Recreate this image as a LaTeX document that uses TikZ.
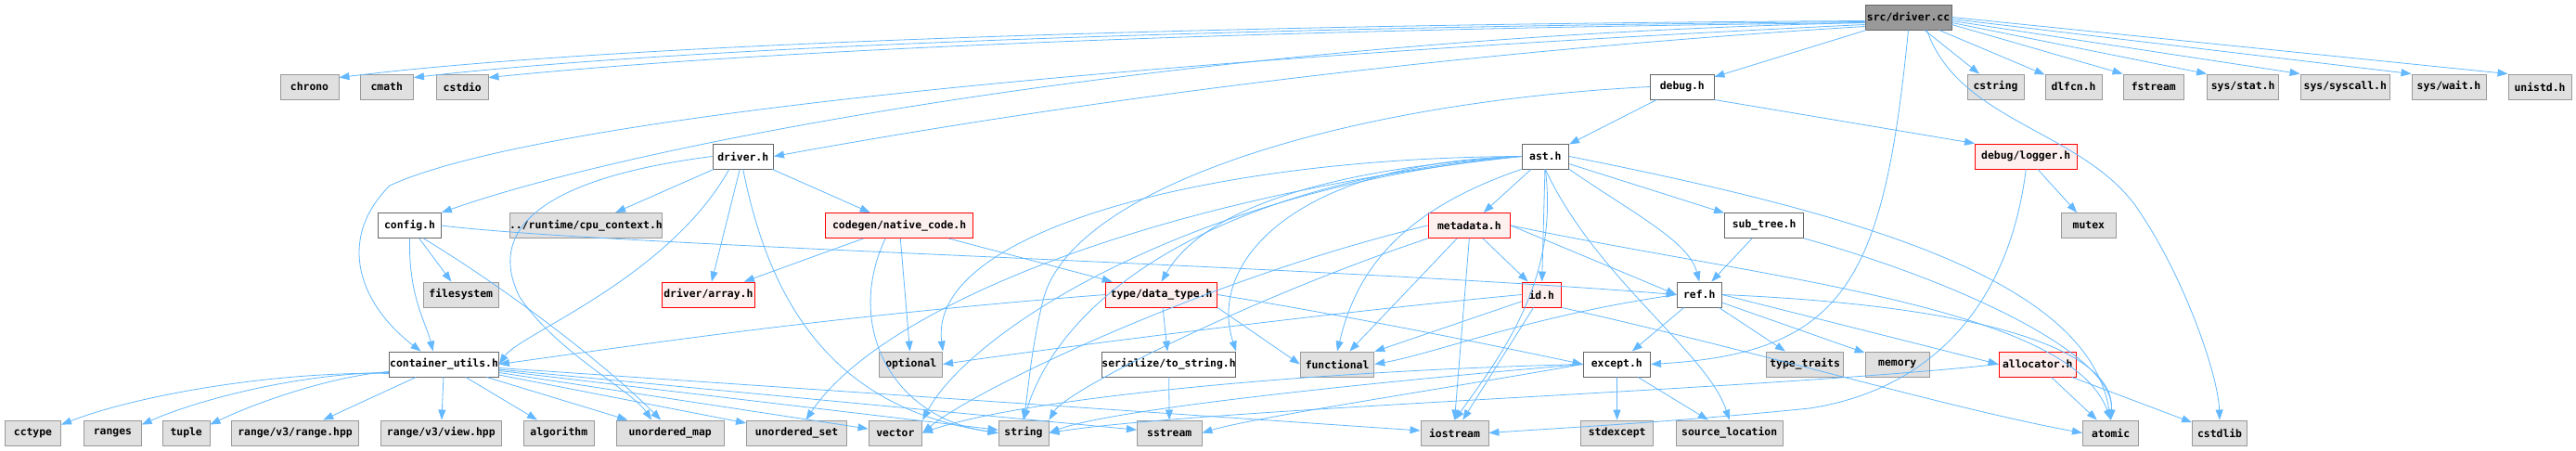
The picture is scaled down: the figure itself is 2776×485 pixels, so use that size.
\documentclass[tikz,border=0pt]{standalone}
\usepackage{fontspec}
\setmonofont{DejaVu Sans Mono}
\usetikzlibrary{arrows.meta}
\definecolor{edgec}{HTML}{63B8FF}
\definecolor{mainfill}{HTML}{999999}
\definecolor{docdraw}{HTML}{666666}
\definecolor{extfill}{HTML}{E0E0E0}
\definecolor{extdraw}{HTML}{999999}
\definecolor{redfill}{HTML}{FFF0F0}
\newcommand\nb[6]{\node[#2, minimum width={(#4-#3)*1pt}] (#1) at ({(#3+#4)/2},#5) {#6};}
\begin{document}
\begin{tikzpicture}[x=1pt,y=-1pt,
  box/.style={rectangle, minimum height=27pt, inner sep=0pt, line width=0.9pt,
    font=\ttfamily\bfseries\fontsize{11.4}{13}\selectfont},
  mainn/.style={box, fill=mainfill, draw=docdraw},
  doc/.style={box, fill=white, draw=docdraw},
  ext/.style={box, fill=extfill, draw=extdraw},
  trunc/.style={box, fill=redfill, draw=red},
  edge/.style={draw=edgec, line width=0.8pt, -{Triangle[length=11pt,width=8pt]}}]
\useasboundingbox (0,0) rectangle (2776,485);
% row 1
\nb{src}{mainn}{2010}{2103}{18.5}{src/driver.cc}
% row 2
\nb{chrono}{ext}{302}{365}{93.5}{chrono}
\nb{cmath}{ext}{388}{445.5}{93.5}{cmath}
\nb{cstdio}{ext}{470.5}{526}{93.5}{cstdio}
\nb{debug}{doc}{1778.6}{1847}{93.5}{debug.h}
\nb{cstring}{ext}{2120}{2181}{93.5}{cstring}
\nb{dlfcn}{ext}{2204}{2265}{93.5}{dlfcn.h}
\nb{fstream}{ext}{2288}{2353.5}{93.5}{fstream}
\nb{sysstat}{ext}{2378.5}{2455.7}{93.5}{sys/stat.h}
\nb{syscall}{ext}{2479}{2575.5}{93.5}{sys/syscall.h}
\nb{syswait}{ext}{2599}{2679}{93.5}{sys/wait.h}
\nb{unistd}{ext}{2703}{2771}{93.5}{unistd.h}
% row 3
\nb{driver}{doc}{768}{833.5}{168.5}{driver.h}
\nb{ast}{doc}{1640}{1690.6}{168.5}{ast.h}
\nb{logger}{trunc}{2128.5}{2238}{168.5}{debug/logger.h}
% row 4
\nb{config}{doc}{407.6}{475.4}{243}{config.h}
\nb{runtime}{ext}{549.5}{713.4}{243}{../runtime/cpu\_context.h}
\nb{codegen}{trunc}{889.7}{1048.6}{243}{codegen/native\_code.h}
\nb{metadata}{trunc}{1539}{1627.7}{243}{metadata.h}
\nb{subtree}{doc}{1858.5}{1943.7}{243}{sub\_tree.h}
\nb{mutex}{ext}{2221.6}{2280}{243}{mutex}
% row 5
\nb{filesystem}{ext}{456}{537.5}{317.5}{filesystem}
\nb{array}{trunc}{713.4}{813.4}{317.5}{driver/array.h}
\nb{datatype}{trunc}{1191.5}{1311.6}{317.5}{type/data\_type.h}
\nb{id}{trunc}{1640}{1682.6}{317.5}{id.h}
\nb{ref}{doc}{1807}{1855.4}{317.5}{ref.h}
% row 6
\nb{cutils}{doc}{419.6}{537.5}{392.5}{container\_utils.h}
\nb{optional}{ext}{947.8}{1015.6}{392.5}{optional}
\nb{serialize}{doc}{1191.5}{1327.6}{392.5}{serialize/to\_string.h}
\nb{functional}{ext}{1401.3}{1480.8}{392.5}{functional}
\nb{except}{doc}{1706}{1778.6}{392.5}{except.h}
\nb{typetraits}{ext}{1903.6}{1986.6}{392.5}{type\_traits}
\nb{memory}{ext}{2010}{2079.5}{392.5}{memory}
\nb{allocator}{trunc}{2154}{2237.5}{392.5}{allocator.h}
% row 7
\nb{cctype}{ext}{5.4}{65.6}{466.5}{cctype}
\nb{ranges}{ext}{90.6}{152.2}{466.5}{ranges}
\nb{tuple}{ext}{175.4}{226}{466.5}{tuple}
\nb{rangehpp}{ext}{249.5}{386.6}{466.5}{range/v3/range.hpp}
\nb{viewhpp}{ext}{410}{540.6}{466.5}{range/v3/view.hpp}
\nb{algorithm}{ext}{564}{640.6}{466.5}{algorithm}
\nb{umap}{ext}{664}{780.4}{466.5}{unordered\_map}
\nb{uset}{ext}{804.5}{912.5}{466.5}{unordered\_set}
\nb{vector}{ext}{936}{993.7}{466.5}{vector}
\nb{string}{ext}{1076}{1130}{466.5}{string}
\nb{sstream}{ext}{1225.4}{1295}{466.5}{sstream}
\nb{iostream}{ext}{1531}{1604}{466.5}{iostream}
\nb{stdexcept}{ext}{1703.6}{1781.7}{466.5}{stdexcept}
\nb{srcloc}{ext}{1806}{1921.4}{466.5}{source\_location}
\nb{atomic}{ext}{2244.4}{2304.8}{466.5}{atomic}
\nb{cstdlib}{ext}{2362.5}{2421.6}{466.5}{cstdlib}

% ---- edges from src/driver.cc
\draw[edge] ([yshift=-4pt]src.west) .. controls (1300,26) and (650,48) .. ([yshift=-4pt]chrono.north east);
\draw[edge] ([yshift=-5pt]src.west) .. controls (1300,29) and (720,52) .. ([yshift=-4pt]cmath.north east);
\draw[edge] ([yshift=-6pt]src.west) .. controls (1300,32) and (800,56) .. ([yshift=-4pt]cstdio.north east);
\draw[edge] (src) -- (cstring);
\draw[edge] (src) -- (dlfcn);
\draw[edge] ([yshift=-8pt]src.east) -- (fstream.north west);
\draw[edge] ([yshift=-6pt]src.east) -- (sysstat.north west);
\draw[edge] ([yshift=-4pt]src.east) -- (syscall.north west);
\draw[edge] ([yshift=-2pt]src.east) -- (syswait.north west);
\draw[edge] (src.east) -- (unistd.north west);
\draw[edge] (src) -- (debug);
\draw[edge] ([yshift=-10pt]src.west) .. controls (1500,60) and (1100,120) .. (driver.east);
\draw[edge] ([yshift=-6pt]src.west) .. controls (1300,40) and (700,150) .. (config.north east);
\draw[edge] ([yshift=-8pt]src.west) .. controls (1100,70) and (560,135) .. (420,200) .. controls (360,260) and (390,330) .. ([xshift=-25pt]cutils.north);
\draw[edge] (src.south) .. controls (2030,300) and (1990,380) .. (except.east);
\draw[edge] ([xshift=20pt]src.south) .. controls (2110,130) and (2240,140) .. (2300,220) .. controls (2350,290) and (2390,400) .. (cstdlib.north);
% ---- debug.h
\draw[edge] (debug) -- (ast);
\draw[edge] (debug.south east) -- (logger.north west);
\draw[edge] (debug.west) .. controls (1450,110) and (1160,200) .. (1125,320) .. controls (1112,370) and (1108,420) .. (string.north);
% ---- logger
\draw[edge] (logger) -- (mutex);
\draw[edge] (logger.south) .. controls (2165,330) and (2080,420) .. (1950,440) .. controls (1800,455) and (1700,460) .. (iostream.east);
% ---- driver.h
\draw[edge] (driver) -- (runtime);
\draw[edge] (driver) -- (codegen);
\draw[edge] (driver) -- (array);
\draw[edge] (driver.west) .. controls (600,190) and (520,240) .. (560,320) .. controls (600,380) and (680,420) .. ([xshift=-20pt]umap.north);
\draw[edge] ([xshift=-15pt]driver.south) .. controls (720,300) and (560,360) .. (cutils.east);
\draw[edge] (driver.south) .. controls (830,330) and (900,440) .. (string.west);
% ---- config.h
\draw[edge] (config) -- (filesystem);
\draw[edge] (config.south) .. controls (440,320) and (460,350) .. ([xshift=-12pt]cutils.north);
\draw[edge] (config.east) .. controls (650,265) and (1400,285) .. (ref.west);
\draw[edge] ([xshift=15pt]config.south) .. controls (560,320) and (660,400) .. ([xshift=-10pt]umap.north);
% ---- codegen
\draw[edge] (codegen) -- (array);
\draw[edge] (codegen) -- (datatype);
\draw[edge] (codegen) -- (optional);
\draw[edge] ([xshift=-15pt]codegen.south) .. controls (910,350) and (960,450) .. (string.west);
% ---- ast.h
\draw[edge] (ast) -- (metadata);
\draw[edge] (ast) -- (subtree);
\draw[edge] (ast) -- (id);
\draw[edge] (ast.south east) .. controls (1760,230) and (1820,260) .. (ref.north);
\draw[edge] (ast.west) .. controls (1450,180) and (1300,220) .. (datatype.north);
\draw[edge] (ast.west) .. controls (1400,175) and (1300,280) .. (serialize.north east);
\draw[edge] (ast.south west) .. controls (1500,230) and (1460,300) .. (functional.north);
\draw[edge] (ast.west) .. controls (1300,170) and (1000,250) .. (optional.north east);
\draw[edge] (ast.west) .. controls (1350,190) and (1150,300) .. (string.north);
\draw[edge] (ast.south) .. controls (1680,300) and (1620,380) .. (iostream.north);
\draw[edge] (ast.south) .. controls (1720,300) and (1840,380) .. (srcloc.north);
\draw[edge] (ast.east) .. controls (2000,230) and (2250,300) .. (atomic.north);
\draw[edge] (ast.west) .. controls (1300,200) and (1050,350) .. (vector.north east);
\draw[edge] (ast.west) .. controls (1250,210) and (950,330) .. ([xshift=10pt]uset.north);
% ---- metadata.h
\draw[edge] (metadata) -- (id);
\draw[edge] (metadata.east) -- (ref.west);
\draw[edge] (metadata) -- (functional);
\draw[edge] (metadata.south) -- (iostream.north);
\draw[edge] (metadata.south west) .. controls (1350,320) and (1150,420) .. (string.north east);
\draw[edge] (metadata.west) .. controls (1300,300) and (1050,420) .. (vector.east);
\draw[edge] (metadata.east) .. controls (1900,300) and (2230,330) .. (atomic.north);
% ---- sub_tree.h
\draw[edge] (subtree) -- (ref);
\draw[edge] (subtree.south east) .. controls (2100,300) and (2280,380) .. (atomic.north);
% ---- data_type.h
\draw[edge] (datatype.west) .. controls (900,340) and (700,370) .. (cutils.east);
\draw[edge] (datatype) -- (serialize);
\draw[edge] (datatype.south east) -- (functional.west);
\draw[edge] (datatype.east) .. controls (1450,340) and (1600,370) .. (except.west);
% ---- serialize
\draw[edge] (serialize) -- (sstream);
% ---- id.h
\draw[edge] (id) -- (functional);
\draw[edge] (id.west) .. controls (1400,340) and (1100,380) .. (optional.east);
\draw[edge] (id) -- (iostream);
\draw[edge] (id.south east) .. controls (1900,380) and (2100,440) .. (atomic.west);
% ---- ref.h
\draw[edge] (ref) -- (except);
\draw[edge] (ref) -- (typetraits);
\draw[edge] (ref) -- (memory);
\draw[edge] (ref.east) -- (allocator.west);
\draw[edge] (ref.west) .. controls (1650,340) and (1550,380) .. (functional.east);
\draw[edge] (ref.east) .. controls (2150,330) and (2280,380) .. (atomic.north);
% ---- except.h
\draw[edge] (except) -- (stdexcept);
\draw[edge] (except) -- (srcloc);
\draw[edge] (except.west) .. controls (1500,410) and (1200,440) .. (string.east);
\draw[edge] (except.west) .. controls (1550,420) and (1350,450) .. (sstream.east);
\draw[edge] (except.west) .. controls (1400,400) and (1100,430) .. (vector.east);
% ---- allocator.h
\draw[edge] (allocator) -- (atomic);
\draw[edge] (allocator) -- (cstdlib);
\draw[edge] (allocator.west) .. controls (1900,420) and (1300,440) .. (string.east);
% ---- container_utils.h
\draw[edge] ([yshift=4pt]cutils.south west) .. controls (300,400) and (150,425) .. ([yshift=-5pt]cctype.north east);
\draw[edge] ([yshift=5pt]cutils.south west) .. controls (330,402) and (220,428) .. ([yshift=-5pt]ranges.north east);
\draw[edge] ([yshift=6pt]cutils.south west) .. controls (360,405) and (280,432) .. ([yshift=-5pt]tuple.north east);
\draw[edge] (cutils) -- (rangehpp);
\draw[edge] (cutils) -- (viewhpp);
\draw[edge] (cutils) -- (algorithm);
\draw[edge] (cutils) -- (umap);
\draw[edge] (cutils) -- (uset);
\draw[edge] (cutils) -- (vector);
\draw[edge] (cutils) -- (string);
\draw[edge] (cutils) -- (sstream);
\draw[edge] (cutils) -- (iostream);
\end{tikzpicture}
\end{document}
